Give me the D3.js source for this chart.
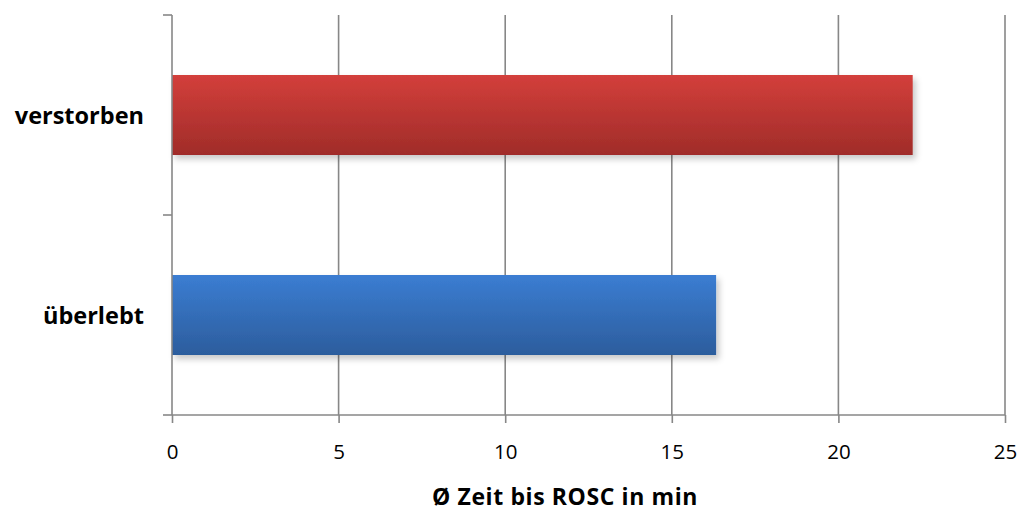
<!DOCTYPE html>
<html>
<head>
<meta charset="utf-8">
<script src="https://cdn.jsdelivr.net/npm/d3@7"></script>
<style>
  html, body { margin: 0; padding: 0; background: #fff; }
  svg { display: block; font-family: "Open Sans", Lato, sans-serif; }
</style>
</head>
<body>
<svg id="chart" width="1020" height="511"></svg>
<script>
// Average time to ROSC (minutes) by outcome
const categories = ["verstorben", "überlebt"];
const values = [22.23, 16.33];
const xTicks = [0, 5, 10, 15, 20, 25];
const axisTitle = "Ø Zeit bis ROSC in min";

const svg = d3.select("#chart");
const margin = { left: 172, right: 15, top: 15, bottom: 96 };
const W = 1020, H = 511;

const x = d3.scaleLinear().domain([0, 25]).range([margin.left, W - margin.right]);
const y = d3.scaleBand().domain(categories).range([margin.top, H - margin.bottom]).paddingInner(0.6).paddingOuter(0.3);

const defs = svg.append("defs");
const grads = [
  { id: "gRed", top: "#d33f3b", bottom: "#a02c29" },
  { id: "gBlue", top: "#3b7dd2", bottom: "#2c5d9d" }
];
grads.forEach(g => {
  const lg = defs.append("linearGradient").attr("id", g.id).attr("x1", 0).attr("y1", 0).attr("x2", 0).attr("y2", 1);
  lg.append("stop").attr("offset", "0%").attr("stop-color", g.top);
  lg.append("stop").attr("offset", "100%").attr("stop-color", g.bottom);
});
const f = defs.append("filter").attr("id", "shadow").attr("x", "-10%").attr("y", "-20%").attr("width", "130%").attr("height", "160%");
f.append("feDropShadow").attr("dx", 3).attr("dy", 4).attr("stdDeviation", 3).attr("flood-color", "#000").attr("flood-opacity", 0.22);

// vertical gridlines
svg.append("g").selectAll("line").data(xTicks.filter(d => d > 0)).join("line")
  .attr("x1", d => x(d)).attr("x2", d => x(d))
  .attr("y1", margin.top).attr("y2", H - margin.bottom)
  .attr("stroke", "#878787").attr("stroke-width", 1.6);

// bars
const fills = ["url(#gRed)", "url(#gBlue)"];
svg.append("g").selectAll("rect").data(categories).join("rect")
  .attr("x", x(0)).attr("y", d => y(d))
  .attr("width", (d, i) => x(values[i]) - x(0))
  .attr("height", y.bandwidth())
  .attr("fill", (d, i) => fills[i])
  .attr("filter", "url(#shadow)");

// x axis
const xAxis = d3.axisBottom(x).tickValues(xTicks).tickSize(8).tickPadding(20);
const gx = svg.append("g").attr("transform", `translate(0,${H - margin.bottom})`).call(xAxis);
gx.select(".domain").attr("stroke", "#878787").attr("stroke-width", 1.6).attr("d", `M${x(0)},0H${x(25)}`);
gx.selectAll(".tick line").attr("stroke", "#878787").attr("stroke-width", 1.6);
gx.selectAll(".tick text").attr("font-size", 20.5).attr("fill", "#000")
  .attr("font-family", "'Open Sans', sans-serif").attr("dy", "0.78em");

// y axis with boundary ticks between categories
const yAxisG = svg.append("g");
yAxisG.append("line").attr("x1", x(0)).attr("x2", x(0)).attr("y1", margin.top).attr("y2", H - margin.bottom)
  .attr("stroke", "#878787").attr("stroke-width", 1.6);
const step = (H - margin.bottom - margin.top) / categories.length;
yAxisG.selectAll(".yt").data(d3.range(categories.length + 1)).join("line")
  .attr("x1", x(0) - 9).attr("x2", x(0))
  .attr("y1", i => margin.top + i * step).attr("y2", i => margin.top + i * step)
  .attr("stroke", "#878787").attr("stroke-width", 1.6);
yAxisG.selectAll("text").data(categories).join("text")
  .attr("x", 144).attr("y", d => y(d) + y.bandwidth() / 2)
  .attr("text-anchor", "end").attr("dominant-baseline", "central")
  .attr("font-size", 23.5).attr("font-weight", "bold").attr("fill", "#000")
  .text(d => d);

// axis title
svg.append("text").attr("x", 565).attr("y", 505)
  .attr("text-anchor", "middle").attr("font-size", 23).attr("font-weight", "bold")
  .attr("letter-spacing", 0.6).attr("fill", "#000")
  .text(axisTitle);
</script>
</body>
</html>
